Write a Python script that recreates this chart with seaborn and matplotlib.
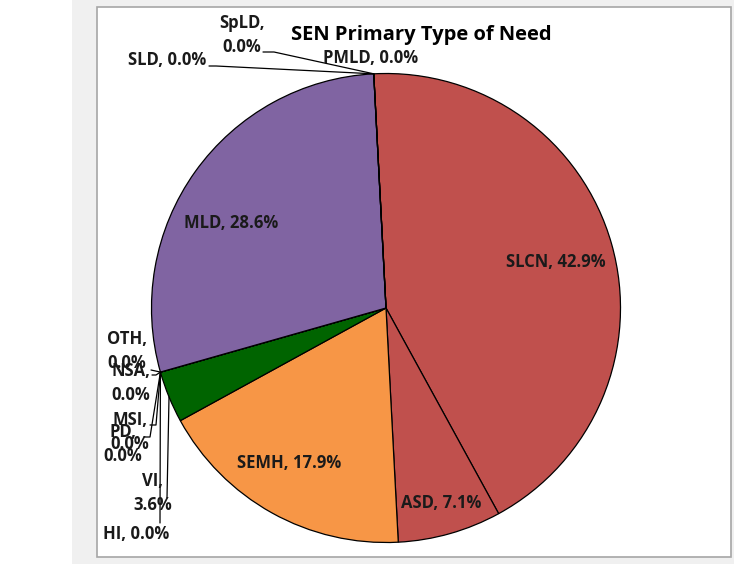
import numpy as np
import matplotlib
matplotlib.use('Agg')
import matplotlib.pyplot as plt
from matplotlib.patches import Rectangle
import seaborn as sns

# data: pupil counts per primary type of need (clockwise from the top)
needs = ['SLCN', 'ASD', 'SEMH', 'VI', 'HI', 'PD', 'MSI', 'NSA', 'OTH',
         'MLD', 'SLD', 'SpLD', 'PMLD']
counts = [12, 2, 5, 1, 0, 0, 0, 0, 0, 8, 0, 0, 0]
slice_colors = ['#C0504D', '#C0504D', '#F79646', '#006400', '#4BACC6',
                '#4F81BD', '#9BBB59', '#8064A2', '#F79646',
                '#8064A2', '#4BACC6', '#4F81BD', '#9BBB59']
title = 'SEN Primary Type of Need'

# label placement in pixels (centre of text), optional leader line path (pixels)
W, H = 734, 564
CX, CY, R = 386, 308, 234.5
label_pos = {
    'SLCN': (556, 262), 'ASD': (441, 503), 'SEMH': (289, 463),
    'VI': (153, 493), 'HI': (136, 534), 'PD': (123, 444), 'MSI': (130, 432),
    'NSA': (131, 383), 'OTH': (127, 351), 'MLD': (231, 223),
    'SLD': (167, 60), 'SpLD': (242, 35), 'PMLD': (371, 58),
}
two_line = {'VI', 'PD', 'MSI', 'NSA', 'OTH', 'SpLD'}
leaders = {
    'SLD': [(209, 66), (216, 66)],
    'SpLD': [(263, 52), (274, 52)],
    'OTH': [(151, 370)],
    'NSA': [(152, 375), (156, 375)],
    'MSI': [(150, 425), (156, 425)],
    'PD': [(144, 437), (150, 437)],
    'VI': [(167, 498)],
    'HI': [(160, 523)],
}


def px(x, y):
    return (x - CX) / R, (CY - y) / R


sns.set_theme(style='white')
plt.rcParams['font.family'] = ['Open Sans', 'DejaVu Sans']

fig = plt.figure(figsize=(W / 100, H / 100), dpi=100)
fig.patches.append(Rectangle((72 / W, 0), 1, 1, transform=fig.transFigure,
                             facecolor='#F0F0F0', edgecolor='none', zorder=-3))
fig.patches.append(Rectangle((97 / W, (H - 557) / H), (731 - 97) / W, (557 - 7) / H,
                             transform=fig.transFigure, facecolor='white',
                             edgecolor='#A6A6A6', linewidth=1.2, zorder=-2))

ax = fig.add_axes([0, 0, 1, 1])
ax.patch.set_visible(False)

wedges, _ = ax.pie(counts, colors=slice_colors, startangle=93, counterclock=False,
                   radius=1, center=(0, 0),
                   wedgeprops=dict(edgecolor='black', linewidth=0.9))
# pie() resets limits and aspect, so set them afterwards
ax.set_aspect('auto')
ax.set_xlim(-CX / R, (W - CX) / R)
ax.set_ylim((CY - H) / R, CY / R)
ax.axis('off')

total = sum(counts)
for w, name, c in zip(wedges, needs, counts):
    pct = 100 * c / total
    sep = ',\n' if name in two_line else ', '
    tx, ty = px(*label_pos[name])
    ax.text(tx, ty, f'{name}{sep}{pct:.1f}%', ha='center', va='center',
            fontsize=12, fontweight='bold', color='#1a1a1a', linespacing=1.4)
    if name in leaders:
        mid = np.deg2rad((w.theta1 + w.theta2) / 2)
        anchor = (np.cos(mid), np.sin(mid))
        pts = [px(*p) for p in leaders[name]] + [anchor]
        xs, ys = zip(*pts)
        ax.plot(xs, ys, color='black', linewidth=0.9)

tx, ty = px(421, 35)
ax.text(tx, ty, title, ha='center', va='center', fontsize=14.5, fontweight='bold',
        color='black')

fig.savefig('out.png', dpi=100)
